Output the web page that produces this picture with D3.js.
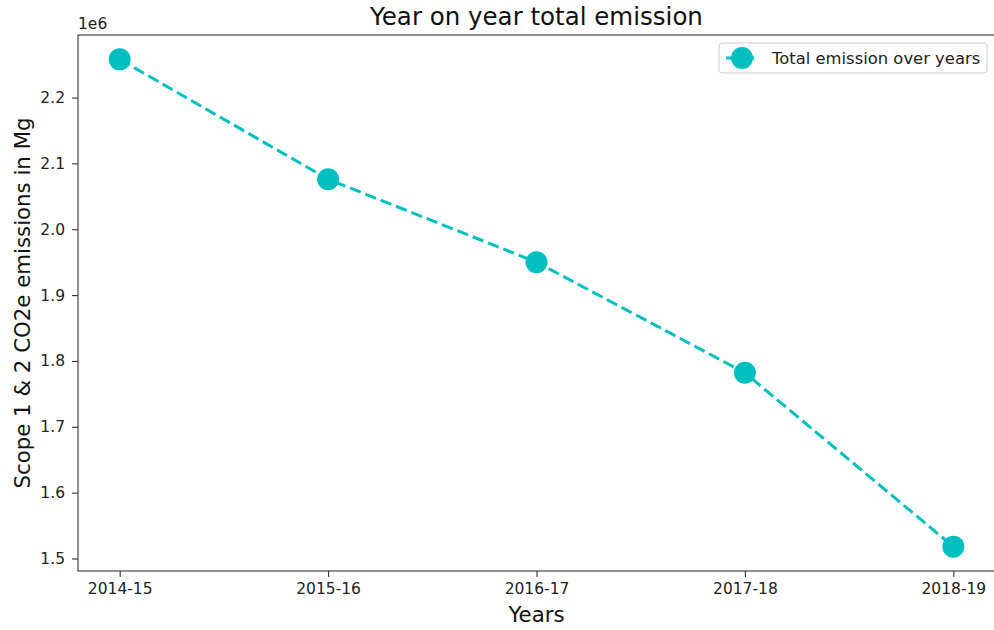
<!DOCTYPE html>
<html>
<head>
<meta charset="utf-8">
<script src="https://cdn.jsdelivr.net/npm/d3@7"></script>
<style>
  body { margin: 0; background: #fff; }
  svg { display: block; font-family: "DejaVu Sans", sans-serif; }
</style>
</head>
<body>
<svg id="chart" width="994" height="630"></svg>
<script>
// Yearly scope 1 & 2 emissions (Mg CO2e)
const years = ["2014-15", "2015-16", "2016-17", "2017-18", "2018-19"];
const emissions = [2258000, 2076000, 1950000, 1782000, 1518000];
const yTicks = [1.5e6, 1.6e6, 1.7e6, 1.8e6, 1.9e6, 2.0e6, 2.1e6, 2.2e6];

const color = "#00bfbf";
const svg = d3.select("#chart");
const plot = { left: 78, right: 995, top: 35, bottom: 571 };

// Category positions with 5% margins on each side
const span = plot.right - plot.left;
const xPos = d3.scaleLinear().domain([0, years.length - 1])
  .range([plot.left + span * 0.05 / 1.1, plot.right - span * 0.05 / 1.1]);

const yMin = d3.min(emissions), yMax = d3.max(emissions);
const pad = (yMax - yMin) * 0.05;
const y = d3.scaleLinear().domain([yMin - pad, yMax + pad])
  .range([plot.bottom, plot.top]);

// Axes
const xAxis = d3.axisBottom(xPos).tickValues(d3.range(years.length))
  .tickFormat(i => years[i]).tickSize(6).tickPadding(6);
const yAxis = d3.axisLeft(y).tickValues(yTicks)
  .tickFormat(d => (d / 1e6).toFixed(1)).tickSize(6).tickPadding(7);

const gx = svg.append("g").attr("transform", `translate(0,${plot.bottom})`).call(xAxis);
const gy = svg.append("g").attr("transform", `translate(${plot.left},0)`).call(yAxis);
[gx, gy].forEach(g => {
  g.select(".domain").remove();
  g.selectAll(".tick line").attr("stroke", "#333").attr("stroke-width", 1.1);
  g.selectAll(".tick text").attr("fill", "#222").style("font-size", "15.5px")
    .style("font-family", "DejaVu Sans, sans-serif");
});

// Frame
svg.append("rect")
  .attr("x", plot.left).attr("y", plot.top)
  .attr("width", plot.right - plot.left).attr("height", plot.bottom - plot.top)
  .attr("fill", "none").attr("stroke", "#333").attr("stroke-width", 1.1);

// Dashed line and markers
const dash = "11.5,5";
const markerR = 11;
const line = d3.line().x((d, i) => xPos(i)).y(d => y(d));
svg.append("path").datum(emissions)
  .attr("d", line).attr("fill", "none")
  .attr("stroke", color).attr("stroke-width", 3)
  .attr("stroke-dasharray", dash);
svg.selectAll("circle.pt").data(emissions).enter().append("circle")
  .attr("class", "pt")
  .attr("cx", (d, i) => xPos(i)).attr("cy", d => y(d))
  .attr("r", markerR).attr("fill", color);

// Offset label
svg.append("text").attr("x", plot.left).attr("y", plot.top - 6)
  .attr("fill", "#222").style("font-size", "15.5px").text("1e6");

// Title and axis labels
svg.append("text").attr("x", (plot.left + plot.right) / 2).attr("y", 25)
  .attr("text-anchor", "middle").attr("fill", "#111").style("font-size", "24.5px")
  .text("Year on year total emission");
svg.append("text").attr("x", (plot.left + plot.right) / 2).attr("y", 622)
  .attr("text-anchor", "middle").attr("fill", "#111").style("font-size", "21.3px")
  .text("Years");
svg.append("text")
  .attr("transform", `translate(30,${(plot.top + plot.bottom) / 2}) rotate(-90)`)
  .attr("text-anchor", "middle").attr("fill", "#111").style("font-size", "21.3px")
  .text("Scope 1 & 2 CO2e emissions in Mg");

// Legend
const lg = svg.append("g");
lg.append("rect").attr("x", 719).attr("y", 43).attr("width", 268).attr("height", 30)
  .attr("rx", 3).attr("fill", "#fff").attr("stroke", "#ccc").attr("stroke-width", 1);
lg.append("line").attr("x1", 726).attr("x2", 757).attr("y1", 58).attr("y2", 58)
  .attr("stroke", color).attr("stroke-width", 3).attr("stroke-dasharray", dash);
lg.append("circle").attr("cx", 742).attr("cy", 58).attr("r", markerR).attr("fill", color);
lg.append("text").attr("x", 772).attr("y", 63.5).attr("fill", "#222")
  .style("font-size", "16.4px").text("Total emission over years");
</script>
</body>
</html>
